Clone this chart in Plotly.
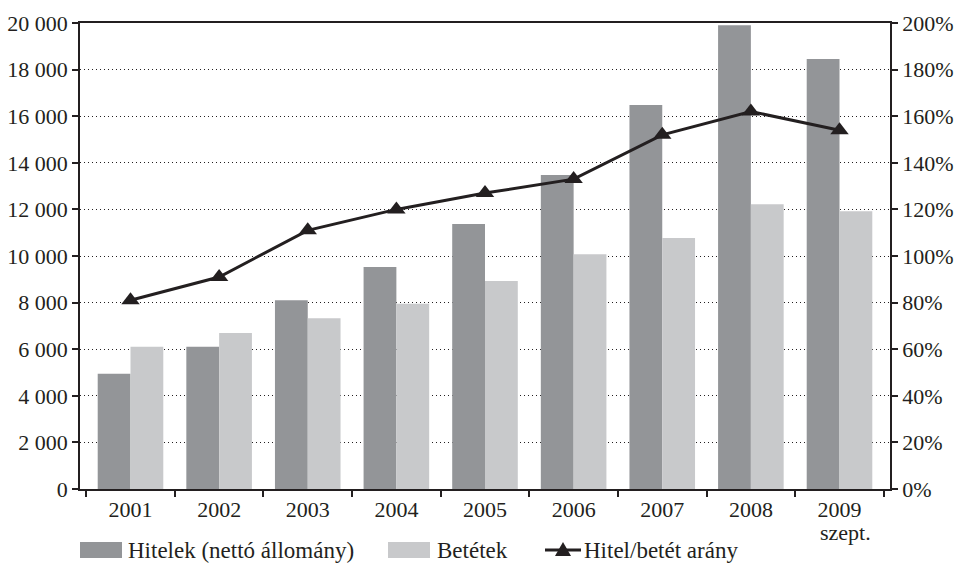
import plotly.graph_objects as go

# Years; the last one is a partial-year figure with a second label line
years = ["2001", "2002", "2003", "2004", "2005", "2006", "2007", "2008", "2009"]
year_notes = ["", "", "", "", "", "", "", "", "szept."]
# Loans (net stock) and deposits
hitelek = [4950, 6100, 8100, 9530, 11370, 13480, 16480, 19900, 18450]
betetek = [6100, 6700, 7330, 7950, 8930, 10080, 10770, 12220, 11920]
# Loan-to-deposit ratio, %
arany = [81, 91, 111, 120, 127, 133, 152, 162, 154]

y_ticks = list(range(0, 20001, 2000))
y_ticktext = [f"{v:,}".replace(",", " ") for v in y_ticks]
y2_ticks = list(range(0, 201, 20))
y2_ticktext = [f"{v}%" for v in y2_ticks]

DARK = "#939598"
LIGHT = "#c8c9cb"
INK = "#231f20"
FONT = "'Liberation Serif', 'Times New Roman', serif"
FS = 22
FS_LEG = 23

fig = go.Figure()
fig.add_trace(go.Bar(x=years, y=hitelek, name="Hitelek (nettó állomány)",
                     marker=dict(color=DARK, line=dict(width=0))))
fig.add_trace(go.Bar(x=years, y=betetek, name="Betétek",
                     marker=dict(color=LIGHT, line=dict(width=0))))
fig.add_trace(go.Scatter(x=years, y=arany, name="Hitel/betét arány", yaxis="y2",
                         mode="lines+markers",
                         line=dict(color=INK, width=3),
                         marker=dict(symbol="triangle-up", size=16, color=INK)))

# Plot area in pixels: left 80, right 890, top 23, bottom 489
L, R, T, B = 80, 890, 23, 489
W, H = 957, 565


def px(x):
    return (x - L) / (R - L)


def py(y):
    return (B - y) / (B - T)


shapes = []
annotations = []

# Second line under year labels
for i, note in enumerate(year_notes):
    if note:
        annotations.append(dict(text=note, x=px(L + (R - L) * (i + 0.5) / len(years)),
                                xref="paper", y=py(532), yref="paper",
                                xanchor="center", yanchor="middle", showarrow=False,
                                font=dict(family=FONT, size=FS, color=INK)))

ly = 550
# Legend: loans swatch
shapes.append(dict(type="rect", xref="paper", yref="paper",
                   x0=px(80), x1=px(122), y0=py(558), y1=py(542),
                   fillcolor=DARK, line=dict(width=0)))
annotations.append(dict(text="Hitelek (nettó állomány)", xref="paper", yref="paper",
                        x=px(126), y=py(ly), xanchor="left", yanchor="middle",
                        showarrow=False, font=dict(family=FONT, size=FS_LEG, color=INK)))
# Legend: deposits swatch
shapes.append(dict(type="rect", xref="paper", yref="paper",
                   x0=px(388), x1=px(430), y0=py(558), y1=py(542),
                   fillcolor=LIGHT, line=dict(width=0)))
annotations.append(dict(text="Betétek", xref="paper", yref="paper",
                        x=px(435), y=py(ly), xanchor="left", yanchor="middle",
                        showarrow=False, font=dict(family=FONT, size=FS_LEG, color=INK)))
# Legend: ratio line with triangle
shapes.append(dict(type="line", xref="paper", yref="paper",
                   x0=px(545), x1=px(581), y0=py(ly), y1=py(ly),
                   line=dict(color=INK, width=3)))
shapes.append(dict(type="path", xref="paper", yref="paper",
                   xsizemode="pixel", ysizemode="pixel",
                   xanchor=px(563), yanchor=py(ly),
                   path="M -8,-6 L 8,-6 L 0,8 Z",
                   fillcolor=INK, line=dict(width=0)))
annotations.append(dict(text="Hitel/betét arány", xref="paper", yref="paper",
                        x=px(582), y=py(ly), xanchor="left", yanchor="middle",
                        showarrow=False, font=dict(family=FONT, size=FS_LEG, color=INK)))

fig.update_layout(
    width=W, height=H,
    margin=dict(l=L, r=W - R, t=T, b=H - B, autoexpand=False),
    paper_bgcolor="white", plot_bgcolor="white",
    font=dict(family=FONT, size=FS, color=INK),
    barmode="group", bargap=0.26, bargroupgap=0,
    showlegend=False,
    shapes=shapes, annotations=annotations,
    xaxis=dict(type="category",
               showline=True, linecolor=INK, linewidth=1.5, mirror=True,
               ticks="outside", tickson="boundaries", ticklen=6, tickcolor=INK,
               tickwidth=1.5, showgrid=False, automargin=False,
               tickfont=dict(family=FONT, size=FS, color=INK)),
    yaxis=dict(range=[0, 20000], tickvals=y_ticks, ticktext=y_ticktext,
               showline=True, linecolor=INK, linewidth=1.5, automargin=False,
               ticks="outside", ticklen=6, tickcolor=INK, tickwidth=1.5,
               showgrid=True, gridcolor=INK, griddash="1px,3px", gridwidth=1,
               zeroline=False, tickfont=dict(family=FONT, size=FS, color=INK)),
    yaxis2=dict(range=[0, 200], tickvals=y2_ticks, ticktext=y2_ticktext,
                overlaying="y", side="right", automargin=False,
                showline=True, linecolor=INK, linewidth=1.5,
                ticks="outside", ticklen=6, tickcolor=INK, tickwidth=1.5,
                showgrid=False, zeroline=False,
                tickfont=dict(family=FONT, size=FS, color=INK)),
)

fig.write_html("out.html")
